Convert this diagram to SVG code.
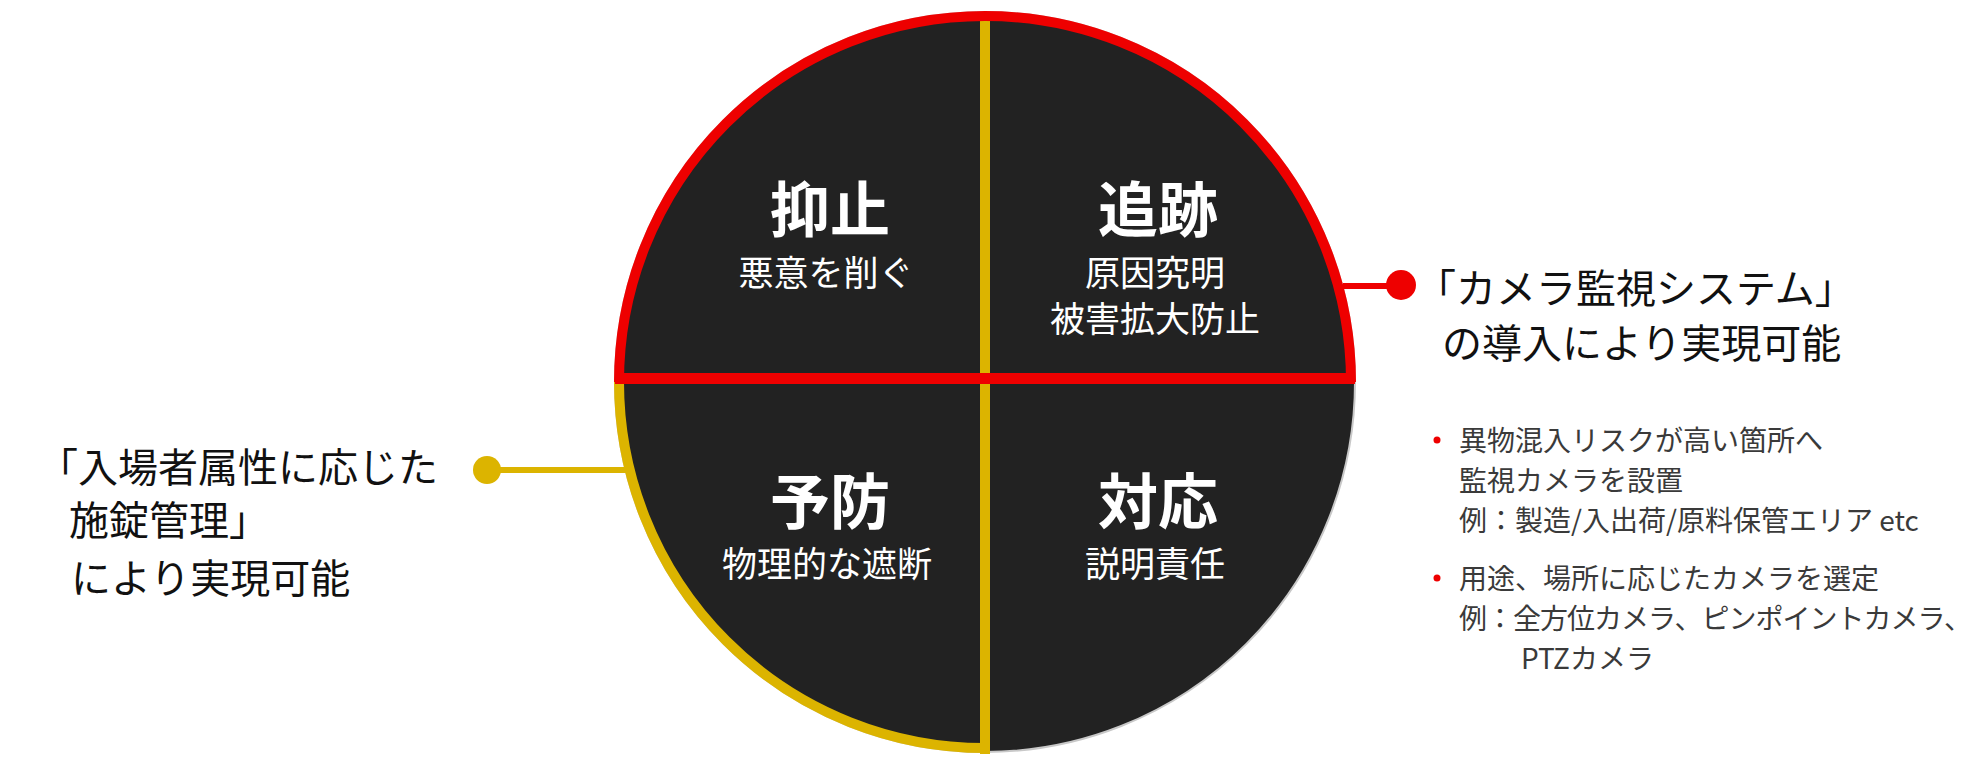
<svg xmlns="http://www.w3.org/2000/svg" width="1972" height="765" viewBox="0 0 1972 765">
<style>
.t{font-family:"Noto Sans CJK JP","Noto Sans",sans-serif;}
.title{font-size:60px;font-weight:700;fill:#ffffff;text-anchor:middle;}
.sub{font-size:35px;font-weight:400;fill:#ffffff;text-anchor:middle;}
.big{font-size:40px;font-weight:400;fill:#111111;}
.lft{font-size:40px;font-weight:400;fill:#111111;}
.bul{font-size:28px;font-weight:400;fill:#3a3a3a;}
.red{stroke:#ee0000;fill:none;}
.yel{stroke:#dcb400;fill:none;}
</style>
<rect width="1972" height="765" fill="#ffffff"/>
<g id="circle">
<circle cx="985" cy="382" r="370" fill="#222222" stroke="#c8c8c8" stroke-width="2"/>
<line class="yel" x1="985" y1="15" x2="985" y2="754" stroke-width="10"/>
<path class="yel" d="M 619 382 A 366 366 0 0 0 985 748" stroke-width="10"/>
<path class="red" d="M 619 382 A 366 366 0 0 1 1351 382" stroke-width="10"/>
<line class="red" x1="615" y1="378.5" x2="1355" y2="378.5" stroke-width="11"/>
</g>
<g id="q-yokushi">
<text class="t title" x="830" y="232">抑止</text>
<text class="t sub" x="826" y="286">悪意を削ぐ</text>
</g>
<g id="q-tsuiseki">
<text class="t title" x="1158" y="232">追跡</text>
<text class="t sub" x="1155" y="286">原因究明</text>
<text class="t sub" x="1155" y="332">被害拡大防止</text>
</g>
<g id="q-yobou">
<text class="t title" x="830" y="524">予防</text>
<text class="t sub" x="827" y="577">物理的な遮断</text>
</g>
<g id="q-taiou">
<text class="t title" x="1158" y="524">対応</text>
<text class="t sub" x="1155" y="577">説明責任</text>
</g>
<g id="connectors">
<line x1="1343" y1="286" x2="1401" y2="286" stroke="#ee0000" stroke-width="6"/>
<circle cx="1401" cy="285" r="15" fill="#ee0000"/>
<line x1="487" y1="470" x2="626" y2="470" stroke="#dcb400" stroke-width="6"/>
<circle cx="487" cy="470" r="14" fill="#dcb400"/>
</g>
<g id="label-camera">
<text class="t big" x="1416" y="303">「カメラ監視システム」</text>
<text class="t big" x="1442" y="358">の導入により実現可能</text>
</g>
<g id="label-lock">
<text class="t lft" x="38" y="482">「入場者属性に応じた</text>
<text class="t lft" x="69" y="535">施錠管理」</text>
<text class="t lft" x="71" y="593">により実現可能</text>
</g>
<g id="bullets">
<circle cx="1437" cy="440" r="3.5" fill="#ee0000"/>
<circle cx="1437" cy="578" r="3.5" fill="#ee0000"/>
<text class="t bul" x="1459" y="451">異物混入リスクが高い箇所へ</text>
<text class="t bul" x="1459" y="491">監視カメラを設置</text>
<text class="t bul" x="1459" y="531">例：製造/入出荷/原料保管エリア etc</text>
<text class="t bul" x="1459" y="589">用途、場所に応じたカメラを選定</text>
<text class="t bul" x="1459" y="629" letter-spacing="-1">例：全方位カメラ、ピンポイントカメラ、</text>
<text class="t bul" x="1521" y="669">PTZカメラ</text>
</g>
</svg>
